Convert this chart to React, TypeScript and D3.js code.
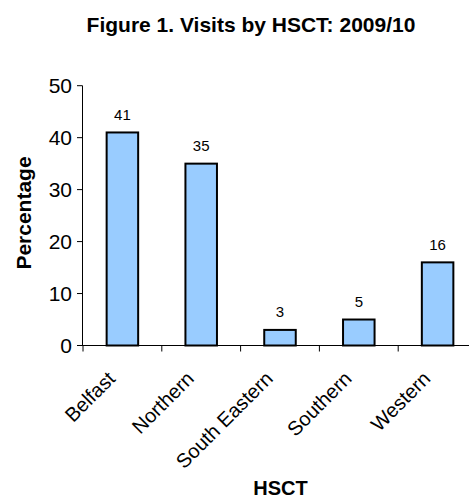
import React from "react";
import * as d3 from "d3";

const categories = ["Belfast", "Northern", "South Eastern", "Southern", "Western"];
const values = [41, 35, 3, 5, 16];
const yTicks = [0, 10, 20, 30, 40, 50];
const title = "Figure 1. Visits by HSCT: 2009/10";
const xTitle = "HSCT";
const yTitle = "Percentage";

const W = 469;
const H = 498;
const FONT = "'Liberation Sans', Arial, sans-serif";

export default function App() {
  const x = d3.scaleBand<string>().domain(categories).range([83, 477]).paddingInner(0.6).paddingOuter(0.3);
  const y = d3.scaleLinear().domain([0, 50]).range([345.5, 85.7]);
  const step = x.step();
  const x0 = 83;
  const boundaries = d3.range(categories.length + 1).map((i) => x0 + i * step);
  const cx = (c: string) => (x(c) as number) + x.bandwidth() / 2;

  return (
    <svg width={W} height={H} style={{ position: "absolute", left: 0, top: 0, background: "#fff" }} fontFamily={FONT}>
      <text x={251} y={32} textAnchor="middle" fontWeight="bold" fontSize={21}>{title}</text>
      {/* y axis */}
      <line x1={82.5} x2={82.5} y1={y(50)} y2={y(0)} stroke="#000" strokeWidth={1} />
      {yTicks.map((t) => (
        <g key={t}>
          <line x1={77} x2={82.5} y1={y(t)} y2={y(t)} stroke="#000" />
          <text x={72} y={y(t)} dy="0.36em" textAnchor="end" fontSize={21}>{t}</text>
        </g>
      ))}
      {/* x axis */}
      <line x1={82} x2={480} y1={y(0)} y2={y(0)} stroke="#000" />
      {boundaries.map((b, i) => (
        <line key={i} x1={b} x2={b} y1={y(0)} y2={y(0) + 6} stroke="#000" />
      ))}
      {categories.map((c, i) => (
        <g key={c}>
          <rect x={x(c)} y={y(values[i])} width={x.bandwidth()} height={y(0) - y(values[i])} fill="#99CCFF" stroke="#000" strokeWidth={2} />
          <text x={cx(c)} y={y(values[i]) - 12.5} textAnchor="middle" fontSize={15}>{values[i]}</text>
          <text
            transform={`translate(${cx(c) - 6},${380}) rotate(-45)`}
            textAnchor="end"
            fontSize={20}
          >{c}</text>
        </g>
      ))}
      <text x={280.5} y={495} textAnchor="middle" fontWeight="bold" fontSize={20}>{xTitle}</text>
      <text transform={`translate(31,213) rotate(-90)`} textAnchor="middle" fontWeight="bold" fontSize={21}>{yTitle}</text>
    </svg>
  );
}
